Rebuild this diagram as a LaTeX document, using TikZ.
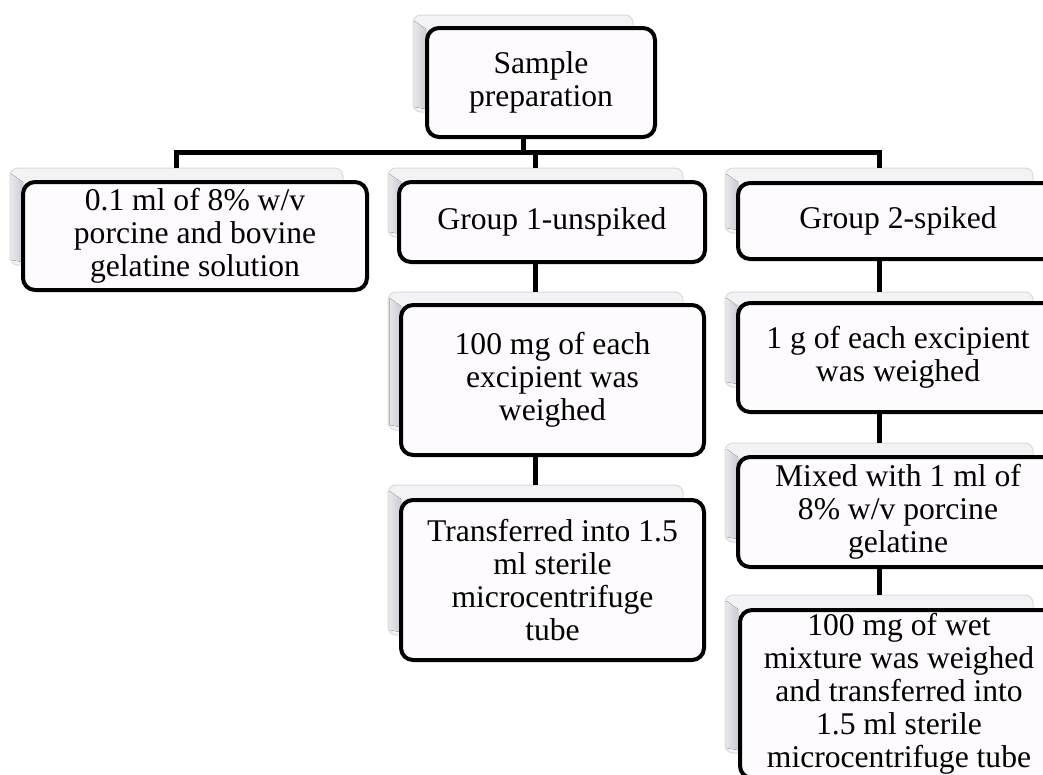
\documentclass[tikz,border=0pt]{standalone}
\usepackage{fontspec}
\setmainfont{Liberation Serif}
\definecolor{cardline}{HTML}{DADADD}
\definecolor{cardface}{HTML}{F3F3F5}
\definecolor{bevA}{HTML}{E6E6EA}
\definecolor{bevB}{HTML}{CBCBD3}
\definecolor{boxfill}{HTML}{FDFBFD}
\newcommand\mkcard[5]{%
  \node[card, minimum width={#4-#2}, minimum height={#5-#3}] (#1) at ({(#2+#4)/2},{(#3+#5)/2}) {};
  \fill[left color=bevA, right color=bevB] (#2+1.5,#3+6) -- (#2+13,#3+14) -- (#2+13,#5-3) -- (#2+1.5,#5-5) -- cycle;
}
\newcommand\mkbox[6]{%
  \node[stepbox, minimum width={#4-#2}, minimum height={#5-#3}] (#1) at ({(#2+#4)/2},{(#3+#5)/2}) {#6};
}
\begin{document}
\begin{tikzpicture}[x=1pt,y=-1pt,
  card/.style={draw=cardline, fill=cardface, rounded corners=8pt, line width=1pt, inner sep=0pt, outer sep=0pt},
  stepbox/.style={draw=black, line width=4pt, fill=boxfill, rounded corners=12pt, inner sep=0pt, outer sep=0pt, align=center, font=\fontsize{31.6}{33}\selectfont},
  conn/.style={line width=5pt, draw=black, line join=miter}]
\useasboundingbox (0,0) rectangle (1043,774);
\clip (0,0) rectangle (1043,774);
\fill[white] (0,0) rectangle (1043,774);
% cards (back panels)
\mkcard{topc}{413}{15}{633}{112}
\mkcard{leftc}{10}{168}{343}{265}
\mkcard{gac}{388}{168}{683}{237}
\mkcard{mac}{388}{292}{683}{430}
\mkcard{mbc}{388}{485}{683}{635}
\mkcard{gbc}{725}{168}{1033}{233}
\mkcard{rac}{725}{292}{1033}{387}
\mkcard{rbc}{725}{443}{1033}{542}
\mkcard{rcc}{725}{595}{1033}{753}
% connectors
\coordinate (bus) at (0,152);
\draw[conn] (topc.south) -- (topc.south |- bus);
\draw[conn] (leftc.north) -- (leftc.north |- bus) -- (gbc.north |- bus) -- (gbc.north);
\draw[conn] (gac.north |- bus) -- (gac.north);
\draw[conn] (gac.south) -- (mac.north);
\draw[conn] (mac.south) -- (mbc.north);
\draw[conn] (gbc.south) -- (rac.north);
\draw[conn] (rac.south) -- (rbc.north);
\draw[conn] (rbc.south) -- (rcc.north);
% boxes
\mkbox{top}{427}{28}{655}{137}{Sample\\preparation}
\mkbox{left}{23}{182}{367}{290}{0.1 ml of 8\% w/v\\porcine and bovine\\gelatine solution}
\mkbox{ga}{399}{182}{705}{262}{Group 1-unspiked}
\mkbox{ma}{401}{305}{704}{455}{100 mg of each\\excipient was\\weighed}
\mkbox{mb}{401}{500}{704}{660}{Transferred into 1.5\\ml sterile\\microcentrifuge\\tube}
\mkbox{gb}{738}{183}{1058}{259}{Group 2-spiked}
\mkbox{ra}{738}{303}{1058}{412}{1 g of each excipient\\was weighed}
\mkbox{rb}{738}{457}{1058}{567}{Mixed with 1 ml of\\8\% w/v porcine\\gelatine}
\mkbox{rc}{740}{610}{1058}{778}{100 mg of wet\\mixture was weighed\\and transferred into\\1.5 ml sterile\\microcentrifuge tube}
\end{tikzpicture}
\end{document}
